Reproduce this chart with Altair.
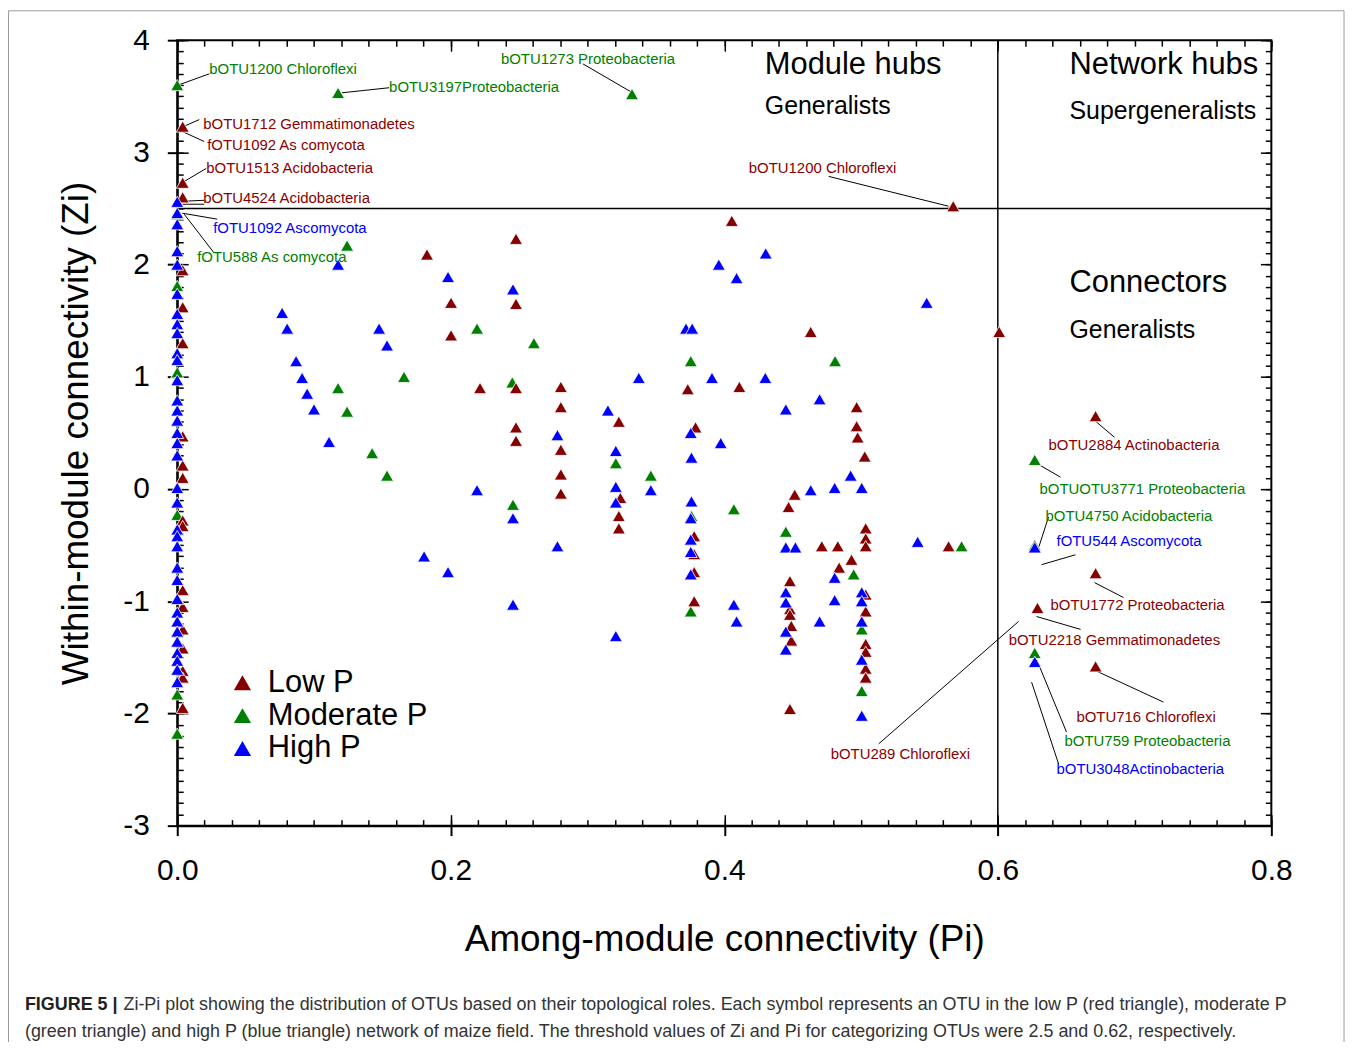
import altair as alt
import pandas as pd

FONT = "Liberation Sans"
W, H = 1099, 789

# ---------------- axis ticks ----------------
x_major = [0.0, 0.2, 0.4, 0.6, 0.8]
y_major = [-3, -2, -1, 0, 1, 2, 3, 4]
x_minor = [round(i * 0.02, 2) for i in range(41)]
y_minor = [round(-3 + i * 0.1, 1) for i in range(71)]

groups = ["Low P", "Moderate P", "High P"]
colors = ["#850000", "#008000", "#0000ff"]

# ---------------- points (Pi, Zi) ----------------
low_p = [
    (0.004, 3.23), (0.004, 2.73), (0.004, 2.60), (0.004, 1.95), (0.004, 1.62), (0.004, 1.30),
    (0.004, 0.47), (0.004, 0.21), (0.004, 0.10), (0.004, -0.28), (0.004, -0.33), (0.004, -0.90),
    (0.004, -1.05), (0.004, -1.25), (0.004, -1.42), (0.004, -1.62), (0.004, -1.68), (0.004, -1.95),
    (0.1826, 2.09), (0.2477, 2.23), (0.2002, 1.66), (0.2477, 1.65), (0.2002, 1.37),
    (0.2214, 0.90), (0.2477, 0.90), (0.2477, 0.55), (0.2477, 0.43),
    (0.2805, 0.91), (0.2805, 0.73), (0.2805, 0.35), (0.2805, 0.13), (0.2805, -0.04),
    (0.3229, 0.60), (0.3240, -0.08), (0.3229, -0.24), (0.3229, -0.35),
    (0.3733, 0.89), (0.4110, 0.91), (0.3790, 0.55), (0.3780, -0.42), (0.3780, -0.58),
    (0.3780, -0.74), (0.3780, -1.00), (0.4055, 2.39), (0.4632, 1.40),
    (0.4968, 0.73), (0.4968, 0.56), (0.4975, 0.46), (0.5027, 0.29),
    (0.4515, -0.05), (0.4470, -0.16), (0.4713, -0.51), (0.4830, -0.51), (0.4930, -0.63),
    (0.4840, -0.70), (0.5034, -0.35), (0.5034, -0.44), (0.5034, -0.51),
    (0.4480, -0.82), (0.4480, -1.07), (0.4480, -1.12), (0.4490, -1.22), (0.4490, -1.35),
    (0.4480, -1.96), (0.5034, -0.94), (0.5034, -1.09), (0.5034, -1.38), (0.5034, -1.45),
    (0.5034, -1.60), (0.5034, -1.68), (0.5674, 2.52), (0.5640, -0.51), (0.6010, 1.40),
    (0.6715, 0.65), (0.6715, -0.75), (0.6290, -1.06), (0.6715, -1.58),
]

mod_p = [
    (0.0, 3.60), (0.0, 2.45), (0.0, 1.81), (0.0, 1.04), (0.0, -0.23), (0.0, -1.83), (0.0, -2.18),
    (0.1176, 3.53), (0.3325, 3.52), (0.1242, 2.17), (0.2192, 1.43), (0.2608, 1.30),
    (0.1658, 1.00), (0.1176, 0.90), (0.1242, 0.69), (0.1425, 0.32), (0.1534, 0.12),
    (0.2450, 0.95), (0.2455, -0.14), (0.3207, 0.23), (0.3463, 0.12), (0.3755, 1.14),
    (0.3760, -0.24), (0.4070, -0.18), (0.3755, -1.09), (0.4810, 1.14), (0.4450, -0.38),
    (0.4946, -0.76), (0.5005, -1.25), (0.5005, -1.80), (0.5735, -0.51),
    (0.6270, 0.26), (0.6270, -0.50), (0.6270, -1.46),
]

high_p = [
    (0.0, 2.56), (0.0, 2.46), (0.0, 2.36), (0.0, 2.12), (0.0, 2.00), (0.0, 1.74), (0.0, 1.56),
    (0.0, 1.47), (0.0, 1.39), (0.0, 1.21), (0.0, 1.15), (0.0, 0.97), (0.0, 0.79), (0.0, 0.70),
    (0.0, 0.61), (0.0, 0.50), (0.0, 0.41), (0.0, 0.30), (0.0, 0.01), (0.0, -0.12), (0.0, -0.36),
    (0.0, -0.42), (0.0, -0.51), (0.0, -0.70), (0.0, -0.81), (0.0, -0.98), (0.0, -1.10),
    (0.0, -1.18), (0.0, -1.27), (0.0, -1.36), (0.0, -1.46), (0.0, -1.53), (0.0, -1.61), (0.0, -1.72),
    (0.1176, 2.00), (0.1980, 1.89), (0.2455, 1.78), (0.0767, 1.57), (0.0804, 1.43), (0.1476, 1.43),
    (0.1534, 1.28), (0.0869, 1.14), (0.0913, 0.99), (0.0950, 0.85), (0.1000, 0.71), (0.1110, 0.42),
    (0.2192, -0.01), (0.2455, -0.26), (0.2780, 0.48), (0.2780, -0.51), (0.1805, -0.60),
    (0.1980, -0.74), (0.2455, -1.03),
    (0.3149, 0.70), (0.3207, 0.34), (0.3207, 0.02), (0.3207, -0.12), (0.3207, -1.31),
    (0.3463, -0.01), (0.3375, 0.99),
    (0.3720, 1.43), (0.3765, 1.43), (0.3910, 0.99), (0.3755, 0.50), (0.3760, 0.28), (0.3974, 0.41),
    (0.3760, -0.11), (0.3755, -0.26), (0.3755, -0.45), (0.3755, -0.56), (0.3755, -0.76),
    (0.4070, -1.03), (0.4090, -1.18),
    (0.3960, 2.00), (0.4090, 1.88), (0.4303, 2.10), (0.4300, 0.99),
    (0.4450, 0.71), (0.4697, 0.80), (0.4924, 0.12), (0.4632, -0.01), (0.4807, 0.01), (0.5005, 0.01),
    (0.4450, -0.52), (0.4520, -0.52), (0.4807, -0.79), (0.4807, -0.99), (0.4697, -1.18),
    (0.4450, -0.92), (0.4450, -1.01), (0.4450, -1.27), (0.4450, -1.43),
    (0.5005, -0.92), (0.5005, -1.00), (0.5005, -1.18), (0.5005, -1.52), (0.5005, -2.02),
    (0.5480, 1.66), (0.5414, -0.47), (0.6270, -0.52), (0.6270, -1.54),
]

# thresholds
zi_cut = 2.5
pi_cut = 0.6

# ---------------- annotations ----------------
ann = [
    ("bOTU1200 Chloroflexi", "#008000", 0.0234, 3.745),
    ("bOTU3197Proteobacteria", "#008000", 0.1549, 3.585),
    ("bOTU1273 Proteobacteria", "#008000", 0.2367, 3.833),
    ("bOTU1712 Gemmatimonadetes", "#8b0000", 0.0190, 3.256),
    ("fOTU1092 As comycota", "#8b0000", 0.0219, 3.070),
    ("bOTU1513 Acidobacteria", "#8b0000", 0.0212, 2.857),
    ("bOTU4524 Acidobacteria", "#8b0000", 0.0190, 2.591),
    ("fOTU1092 Ascomycota", "#0000ff", 0.0263, 2.325),
    ("fOTU588 As comycota", "#008000", 0.0146, 2.067),
    ("bOTU1200 Chloroflexi", "#8b0000", 0.4179, 2.857),
    ("bOTU2884 Actinobacteria", "#8b0000", 0.6371, 0.390),
    ("bOTUOTU3771 Proteobacteria", "#008000", 0.6305, 0.000),
    ("bOTU4750 Acidobacteria", "#008000", 0.6349, -0.240),
    ("fOTU544 Ascomycota", "#0000ff", 0.6429, -0.461),
    ("bOTU1772 Proteobacteria", "#8b0000", 0.6385, -1.038),
    ("bOTU2218 Gemmatimonadetes", "#8b0000", 0.6079, -1.349),
    ("bOTU716 Chloroflexi", "#8b0000", 0.6575, -2.032),
    ("bOTU759 Proteobacteria", "#008000", 0.6488, -2.245),
    ("bOTU3048Actinobacteria", "#0000ff", 0.6429, -2.493),
    ("bOTU289 Chloroflexi", "#8b0000", 0.4778, -2.360),
]

leaders = [
    (0.0015, 3.603, 0.0234, 3.700),
    (0.1205, 3.531, 0.1549, 3.576),
    (0.2966, 3.789, 0.3317, 3.540),
    (0.0044, 3.230, 0.0161, 3.292),
    (0.0037, 3.186, 0.0197, 3.097),
    (0.0015, 2.715, 0.0212, 2.857),
    (0.0037, 2.564, 0.0197, 2.573),
    (0.0037, 2.538, 0.0197, 2.538),
    (0.0037, 2.458, 0.0292, 2.405),
    (0.0051, 2.449, 0.0270, 2.103),
    (0.4763, 2.786, 0.5640, 2.520),
    (0.6707, 0.612, 0.6853, 0.461),
    (0.6268, 0.240, 0.6458, 0.106),
    (0.6371, -0.248, 0.6298, -0.524),
    (0.6320, -0.674, 0.6568, -0.586),
    (0.6707, -0.834, 0.6919, -0.967),
    (0.6283, -1.136, 0.6605, -1.251),
    (0.6692, -1.606, 0.7211, -1.899),
    (0.6283, -1.517, 0.6502, -2.165),
    (0.6247, -1.721, 0.6444, -2.449),
    (0.5129, -2.271, 0.6152, -1.180),
]

regions = [
    ("Module hubs", 0.4296, 3.779, 31),
    ("Generalists", 0.4296, 3.416, 25),
    ("Network hubs", 0.6524, 3.779, 31),
    ("Supergeneralists", 0.6524, 3.372, 25),
    ("Connectors", 0.6524, 1.837, 31),
    ("Generalists", 0.6524, 1.420, 25),
]

caption_bold = "FIGURE 5 |"
caption_1 = ("Zi-Pi plot showing the distribution of OTUs based on their topological roles. "
             "Each symbol represents an OTU in the low P (red triangle), moderate P")
caption_2 = ("(green triangle) and high P (blue triangle) network of maize field. The threshold "
             "values of Zi and Pi for categorizing OTUs were 2.5 and 0.62, respectively.")

# ---------------- frames ----------------
rows = []
for g, pts in (("Moderate P", mod_p), ("Low P", low_p), ("High P", high_p)):
    for pi, zi in pts:
        rows.append({"Pi": pi, "Zi": zi, "group": g})
pts_df = pd.DataFrame(rows)

ann_df = pd.DataFrame(ann, columns=["label", "col", "x", "y"])
lead_df = pd.DataFrame(leaders, columns=["x", "y", "x2", "y2"])
reg_df = pd.DataFrame(regions, columns=["label", "x", "y", "fs"])
one = pd.DataFrame({"Pi": [0.0], "Zi": [0.0]})

xs = alt.Scale(domain=[0, 0.8], nice=False, zero=False)
ys = alt.Scale(domain=[-3, 4], nice=False, zero=False)

common = dict(labelFont=FONT, titleFont=FONT, labelColor="black", titleColor="black",
              tickColor="black", domainColor="black", grid=False)

points = alt.Chart(pts_df).mark_point(
    shape="triangle-up", filled=True, size=170, stroke="white", strokeWidth=0.8, opacity=1
).encode(
    x=alt.X("Pi:Q", scale=xs, axis=alt.Axis(
        orient="bottom", values=x_major, labelExpr="format(datum.value, '.1f')",
        title="Among-module connectivity (Pi)", labelFontSize=30, titleFontSize=37,
        titleFontWeight="normal", tickSize=10, tickWidth=2, domainWidth=2,
        labelPadding=20, titlePadding=36, labelFlush=False, labelOverlap=False, **common)),
    y=alt.Y("Zi:Q", scale=ys, axis=alt.Axis(
        orient="left", values=y_major, labelExpr="'' + datum.value",
        title="Within-module connectivity (Zi)", labelFontSize=30, titleFontSize=37,
        titleFontWeight="normal", tickSize=10, tickWidth=2, domainWidth=2,
        labelPadding=18, titlePadding=27, labelOverlap=False, **common)),
    color=alt.Color("group:N", scale=alt.Scale(domain=groups, range=colors),
                    legend=alt.Legend(title=None, orient="none", legendX=50, legendY=630,
                                      direction="vertical", labelFont=FONT, labelFontSize=31,
                                      labelColor="black", labelLimit=400,
                                      symbolType="triangle-up", symbolSize=300,
                                      symbolStrokeWidth=0, labelOffset=10, rowPadding=1,
                                      padding=0)),
)


def tick_layer(xo, yo, xv, yv, size):
    return alt.Chart(one).mark_point(opacity=0).encode(
        x=alt.X("Pi:Q", scale=xs, axis=alt.Axis(
            orient=xo, values=xv, labels=False, domain=False, grid=False, ticks=True,
            tickSize=size, tickWidth=1.5, tickColor="black", offset=-size, title=None)),
        y=alt.Y("Zi:Q", scale=ys, axis=alt.Axis(
            orient=yo, values=yv, labels=False, domain=False, grid=False, ticks=True,
            tickSize=size, tickWidth=1.5, tickColor="black", offset=-size, title=None)),
    )


minor1 = tick_layer("bottom", "left", x_minor, y_minor, 6)
minor2 = tick_layer("top", "right", x_minor, y_minor, 6)
major1 = tick_layer("bottom", "left", x_major, y_major, 11)
major2 = tick_layer("top", "right", x_major, y_major, 11)

hrule = alt.Chart(pd.DataFrame({"Zi": [zi_cut], "a": [0.0], "b": [0.8]})).mark_rule(
    color="black", strokeWidth=1.5).encode(
    y=alt.Y("Zi:Q", scale=ys, axis=None),
    x=alt.X("a:Q", scale=xs, axis=None), x2="b:Q")
vrule = alt.Chart(pd.DataFrame({"Pi": [pi_cut], "a": [-3.0], "b": [4.0]})).mark_rule(
    color="black", strokeWidth=1.5).encode(
    x=alt.X("Pi:Q", scale=xs, axis=None),
    y=alt.Y("a:Q", scale=ys, axis=None), y2="b:Q")

lead = alt.Chart(lead_df).mark_rule(color="black", strokeWidth=1).encode(
    x=alt.X("x:Q", scale=xs, axis=None), y=alt.Y("y:Q", scale=ys, axis=None),
    x2="x2:Q", y2="y2:Q")

ann_text = alt.Chart(ann_df).mark_text(align="left", baseline="middle", font=FONT,
                                       fontSize=15).encode(
    x=alt.X("x:Q", scale=xs, axis=None), y=alt.Y("y:Q", scale=ys, axis=None),
    text="label:N", color=alt.Color("col:N", scale=None))

reg_text = alt.Chart(reg_df).mark_text(align="left", baseline="middle", font=FONT,
                                       color="black").encode(
    x=alt.X("x:Q", scale=xs, axis=None), y=alt.Y("y:Q", scale=ys, axis=None),
    text="label:N", size=alt.Size("fs:Q", scale=None))

cap_df = pd.DataFrame({"t": [caption_bold]})
cap_b = alt.Chart(cap_df).mark_text(align="left", baseline="middle", font=FONT, fontSize=18,
                                    fontWeight="bold", color="#222222").encode(
    text="t:N", x=alt.value(-153), y=alt.value(969))
cap_1 = alt.Chart(pd.DataFrame({"t": [caption_1]})).mark_text(
    align="left", baseline="middle", font=FONT, fontSize=18, color="#333333").encode(
    text="t:N", x=alt.value(-54), y=alt.value(969))
cap_2 = alt.Chart(pd.DataFrame({"t": [caption_2]})).mark_text(
    align="left", baseline="middle", font=FONT, fontSize=18, color="#333333").encode(
    text="t:N", x=alt.value(-153), y=alt.value(996))

frame = alt.Chart(one).mark_rect(fillOpacity=0, stroke="#9a9a9a", strokeWidth=1).encode(
    x=alt.value(-169.5), x2=alt.value(1172), y=alt.value(-29.5), y2=alt.value(1030))

chart = alt.layer(
    frame, minor1, minor2, major1, major2, hrule, vrule, lead, points,
    ann_text, reg_text, cap_b, cap_1, cap_2,
).resolve_axis(x="independent", y="independent").properties(
    width=W, height=H,
    autosize=alt.AutoSizeParams(type="none"),
    padding={"left": 170, "top": 30, "right": 78, "bottom": 215},
    background="white",
).configure_view(stroke="black", strokeWidth=2)

chart.save("out.html", embed_options={"renderer": "svg", "actions": False})
